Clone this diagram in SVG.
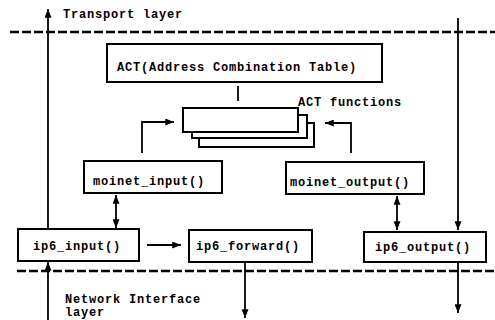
<svg xmlns="http://www.w3.org/2000/svg" width="495" height="320" viewBox="0 0 495 320">
<defs>
<style>
.box{fill:#fff;stroke:#000;stroke-width:2}
.ln{fill:none;stroke:#000;stroke-width:1.8}
.dash{fill:none;stroke:#000;stroke-width:2.5;stroke-dasharray:9 3}
text{font-family:"Liberation Mono","DejaVu Sans Mono",monospace;font-weight:bold;font-size:12px;letter-spacing:0.8px;fill:#000}
</style>
<marker id="ah" viewBox="0 0 10 8" refX="10" refY="4" markerWidth="9" markerHeight="7" markerUnits="userSpaceOnUse" orient="auto-start-reverse">
<path d="M0,0 L10,4 L0,8 z" fill="#000"/>
</marker>
</defs>
<rect width="495" height="320" fill="#fff"/>
<g id="layers">
<line class="dash" x1="10" y1="32" x2="495" y2="32"/>
<line class="dash" x1="17" y1="271" x2="495" y2="271"/>
<text x="63" y="18">Transport layer</text>
<text x="65" y="303">Network Interface</text>
<text x="65" y="316">layer</text>
</g>
<g id="act">
<rect class="box" x="107" y="44" width="275" height="38"/>
<text x="117" y="71">ACT(Address Combination Table)</text>
</g>
<g id="act_functions">
<rect class="box" x="199" y="123" width="115" height="24"/>
<rect class="box" x="192" y="115" width="115" height="23"/>
<rect class="box" x="183" y="108" width="115" height="24"/>
<text x="298" y="106">ACT functions</text>
</g>
<g id="moinet_input">
<rect class="box" x="84" y="161" width="138" height="32"/>
<text x="93" y="185">moinet_input()</text>
</g>
<g id="moinet_output">
<rect class="box" x="286" y="162" width="138" height="32"/>
<text x="290" y="186">moinet_output()</text>
</g>
<g id="ip6_input">
<rect class="box" x="18" y="229" width="121" height="32"/>
<text x="33" y="250">ip6_input()</text>
</g>
<g id="ip6_forward">
<rect class="box" x="189" y="230" width="123" height="32"/>
<text x="196" y="250">ip6_forward()</text>
</g>
<g id="ip6_output">
<rect class="box" x="364" y="232" width="122" height="30"/>
<text x="375" y="251">ip6_output()</text>
</g>
<g id="connectors">
<line class="ln" x1="238" y1="86" x2="238" y2="101"/>
<line class="ln" x1="48" y1="228" x2="48" y2="9" marker-end="url(#ah)"/>
<line class="ln" x1="48" y1="320" x2="48" y2="262" marker-end="url(#ah)"/>
<line class="ln" x1="458" y1="18" x2="458" y2="230" marker-end="url(#ah)"/>
<line class="ln" x1="458" y1="262" x2="458" y2="313" marker-end="url(#ah)"/>
<line class="ln" x1="245" y1="262" x2="245" y2="318" marker-end="url(#ah)"/>
<line class="ln" x1="147" y1="245" x2="181" y2="245" marker-end="url(#ah)"/>
<line class="ln" x1="116" y1="195" x2="116" y2="228" marker-start="url(#ah)" marker-end="url(#ah)"/>
<line class="ln" x1="397" y1="196" x2="397" y2="230" marker-start="url(#ah)" marker-end="url(#ah)"/>
<path class="ln" d="M142 153 V122 H174" marker-end="url(#ah)"/>
<path class="ln" d="M351 153 V123 H325" marker-end="url(#ah)"/>
</g>
</svg>
